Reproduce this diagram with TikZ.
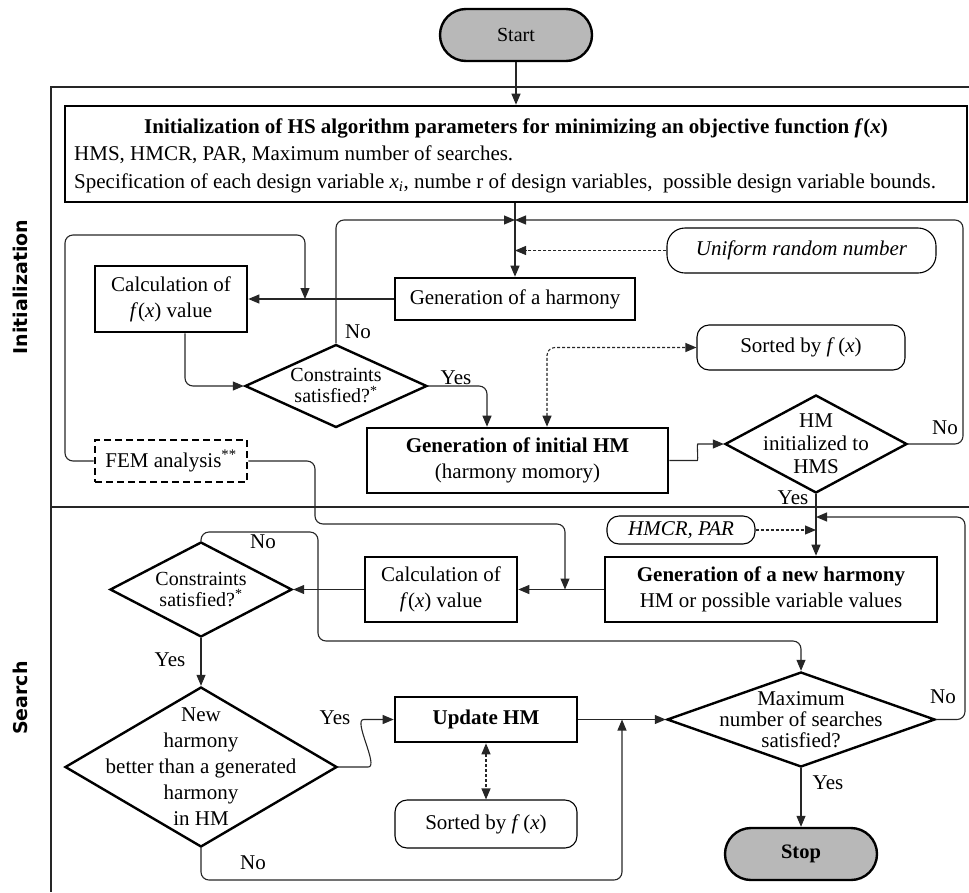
\documentclass[tikz,border=0pt]{standalone}
\usepackage{fontspec}
\setmainfont{Liberation Serif}
\newfontfamily\sectfont{DejaVu Sans}
\usetikzlibrary{shapes.geometric,arrows.meta}

\tikzset{
  txt/.style={inner sep=0pt, font=\fontsize{21}{26}\selectfont, align=center},
  box/.style={txt, draw, line width=2.6pt, rectangle},
  dia/.style={draw, line width=2.4pt, diamond, inner sep=0pt},
  rbox/.style={txt, draw, line width=1.1pt, rounded corners=12pt},
  term/.style={txt, draw, line width=2.4pt, fill=black!28, rounded corners=26pt,
    minimum width=152pt, minimum height=52pt},
  conn/.style={line width=1.1pt, draw=black!85, rounded corners=8pt},
  arr/.style={conn, -{Triangle[length=11pt,width=9pt]}},
  darr/.style={arr, dash pattern=on 3pt off 2pt},
  ddarr/.style={conn, dash pattern=on 3pt off 2pt,
    {Triangle[length=11pt,width=9pt]}-{Triangle[length=11pt,width=9pt]}},
  frame/.style={line width=1.2pt, draw=black!85},
  sect/.style={inner sep=0pt, font=\sectfont\bfseries\fontsize{19}{22}\selectfont, rotate=90},
  lbl/.style={inner sep=0pt, font=\fontsize{21}{24}\selectfont},
}

\begin{document}
\begin{tikzpicture}[x=1pt,y=-1pt]
\useasboundingbox (0,0) rectangle (969,892);

% section frame
\draw[frame] (969,87) -- (51,87) -- (51,892);
\draw[frame] (51,507) -- (969,507);
\node[sect] (lblinit) at (20,287) {Initialization};
\node[sect] (lblsearch) at (20,698) {Search};

% ---------- initialization ----------
\node[term, font=\fontsize{20}{24}\selectfont] (start) at (516,35) {Start};
\node[box, minimum width=902pt, minimum height=96pt] (init) at (516,154) {};
\node[lbl, anchor=base] (inittitle) at (516,133)
  {\textbf{Initialization of HS algorithm parameters for minimizing an objective function \textit{f}(\textit{x})}};
\node[lbl, anchor=base west] (initl2) at (74,160)
  {HMS, HMCR, PAR, Maximum number of searches.};
\node[lbl, anchor=base west] (initl3) at (74,188)
  {Specification of each design variable \textit{x}\textsubscript{\textit{i}}, numbe r of design variables,\ \ possible design variable bounds.};

\node[box, minimum width=240pt, minimum height=42pt] (genh) at (515,299) {Generation of a harmony};
\node[box, minimum width=152pt, minimum height=66pt] (calc1) at (171,299)
  {Calculation of\\\textit{f}(\textit{x}) value};
\node[rbox, rounded corners=18pt, minimum width=269pt, minimum height=45pt] (uniform) at (801.5,250.5)
  {\textit{Uniform random number}};
\node[dia, minimum width=182pt, minimum height=83pt,
  label={[txt, font=\fontsize{20}{21}\selectfont]center:Constraints\\satisfied?\textsuperscript{*}}] (cons1) at (336,386) {};
\node[box, minimum width=301pt, minimum height=65pt] (geninit) at (517.5,460.5)
  {\textbf{Generation of initial HM}\\(harmony momory)};
\node[rbox, minimum width=208pt, minimum height=45pt] (sorted1) at (801,347.5)
  {Sorted by \textit{f}\,(\textit{x})};
\node[dia, minimum width=182pt, minimum height=98pt,
  label={[txt, font=\fontsize{21}{23}\selectfont]center:HM\\initialized to\\HMS}] (hminit) at (816,444) {};
\node[txt, draw, line width=2.6pt, dash pattern=on 7pt off 4pt,
  minimum width=152pt, minimum height=42pt] (fem) at (171,461)
  {FEM analysis\textsuperscript{**}};

\coordinate (J) at (515,220);
\draw[arr] (start) -- (init);
\draw[arr] (genh.north |- init.south) -- (genh.north);
\draw[arr] (cons1.north) -- (336,220) -- (J);
\draw[arr] (hminit.east) -- (963,444) -- (963,220) -- (J);
\draw[darr] (uniform.west) -- (uniform.west -| genh.north);
\draw[arr] (genh.west) -- (calc1.east);
\coordinate (femin) at (305,299);
\draw[arr] (fem.west) -- (65,461) -- (65,235) -- (305,235) -- (femin);
\draw[arr] ([xshift=14pt]calc1.south) -- (185,386) -- (cons1.west);
\draw[arr] (cons1.east) -| ([xshift=-30.5pt]geninit.north);
\draw[ddarr] ([xshift=29.5pt]geninit.north) |- (sorted1.west);
\draw[arr] (geninit.east) -- ++(20,0) to[out=0,in=180] ([xshift=-18pt]hminit.west) -- (hminit.west);

\node[lbl] (no1) at (358,332) {No};
\node[lbl] (yes1) at (456,378) {Yes};
\node[lbl] (no2) at (945,428) {No};
\node[lbl] (yes2) at (793,498) {Yes};

% ---------- search ----------
\node[rbox, minimum width=148pt, minimum height=28pt] (hmcr) at (681,530) {\textit{HMCR, PAR}};
\node[box, minimum width=332pt, minimum height=65pt] (gennew) at (771,589.5)
  {\textbf{Generation of a new harmony}\\HM or possible variable values};
\node[box, minimum width=152pt, minimum height=65pt] (calc2) at (441,589.5)
  {Calculation of\\\textit{f}(\textit{x}) value};
\node[dia, minimum width=182pt, minimum height=95pt,
  label={[txt, font=\fontsize{20}{21}\selectfont]center:Constraints\\satisfied?\textsuperscript{*}}] (cons2) at (201,589.5) {};
\node[dia, minimum width=272pt, minimum height=160pt,
  label={[txt, font=\fontsize{21}{26}\selectfont]center:New\\harmony\\better than a generated\\harmony\\in HM}] (newhar) at (201,767) {};
\node[box, minimum width=182pt, minimum height=45pt] (update) at (486,719.5) {\textbf{Update HM}};
\node[rbox, minimum width=182pt, minimum height=48pt] (sorted2) at (486,824)
  {Sorted by \textit{f}\,(\textit{x})};
\node[dia, minimum width=268pt, minimum height=95pt,
  label={[txt, font=\fontsize{21}{21}\selectfont]center:Maximum\\number of searches\\satisfied?}] (maxd) at (801,719.5) {};
\node[term, font=\fontsize{20.5}{24}\selectfont] (stop) at (801,854) {\textbf{Stop}};

\draw[arr] (hminit.south) -- (hminit.south |- gennew.north);
\draw[darr] (hmcr.east) -- (hmcr.east -| hminit.south);
\draw[arr] (maxd.east) -- (965,719.5) -- (965,517) -- (hminit.south |- 0,517);
\draw[arr] (gennew.west) -- (calc2.east);
\coordinate (femout) at (565,589.5);
\draw[arr] (fem.east) -- (315,461) -- (315,524) -- (565,524) -- (femout);
\draw[arr] (calc2.west) -- (cons2.east);
\draw[arr] (cons2.north) -- (201,532) -- (318,532) -- (318,641) -| (maxd.north);
\draw[arr] (cons2.south) -- (newhar.north);
\draw[arr] (newhar.east) -- ++(22,0) to[out=0,in=180] ([xshift=-22pt]update.west) -- (update.west);
\draw[ddarr] (update.south) -- (sorted2.north);
\draw[arr] (update.east) -- (maxd.west);
\coordinate (noin) at (622,719.5);
\draw[arr] (newhar.south) -- (201,880) -- (622,880) -- (noin);
\draw[arr] (maxd.south) -- (stop.north);

\node[lbl] (no3) at (263,542) {No};
\node[lbl] (yes3) at (170,660) {Yes};
\node[lbl] (yes4) at (335,718) {Yes};
\node[lbl] (no4) at (253,863) {No};
\node[lbl] (yes5) at (828,783) {Yes};
\node[lbl] (no5) at (943,697) {No};
\end{tikzpicture}
\end{document}
